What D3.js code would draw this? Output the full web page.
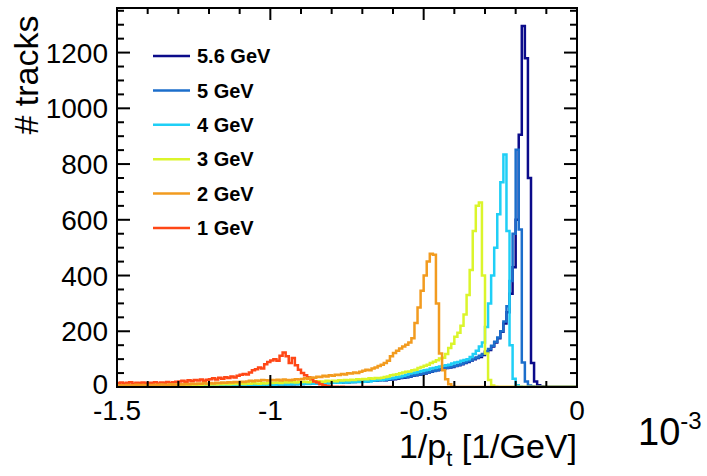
<!DOCTYPE html>
<head>
  <meta charset="UTF-8">
  <title>tracks</title>
  <style>
  body, html, svg{
    padding: 0;
    margin: 0;
  }
  body{
    background: #fff;
  }
  text{
    font-family: "Liberation Sans", Arial, Helvetica, sans-serif;
    fill: #000;
  }
  </style>
</head>
<body>
  <script src="https://cdn.jsdelivr.net/npm/d3@7"></script>
  <script type="text/javascript">
  // histogram binning: 0.01 wide bins starting at -1.5 (in 10^-3 1/GeV)
  var xMin = -1.5;
  var binW = 0.01;

  var xTicks = [-1.5, -1, -0.5, 0];
  var xTickLabels = ['-1.5', '-1', '-0.5', '0'];
  var yTicks = [0, 200, 400, 600, 800, 1000, 1200];

  var labels = ['5.6 GeV', '5 GeV', '4 GeV', '3 GeV', '2 GeV', '1 GeV'];
  var colors = ['#0b0b8a', '#1c6ecb', '#1fcff6', '#dbf52b', '#f29b1f', '#ff4716'];

  // counts per bin
  var gev1 = [
    14,16,13,15,17,12,15,14,16,13, 15,14,17,13,16,15,18,14,17,19,
    20,22,19,24,21,25,23,27,22,26, 28,31,27,33,30,35,32,38,34,40,
    44,47,45,52,60,64,70,66,82,90, 95,100,94,112,124,110,86,104,78,62,
    50,42,35,28,20,16,10,6,4,2, 1,1,0,1,0,0,0,0,0,0,
    0,0,0,0,0,0,0,0,0,0
  ];
  var gev2 = [
    5,6,4,7,5,6,8,5,7,6, 7,6,8,7,9,8,7,10,8,9,
    10,9,11,10,12,11,13,12,14,12, 14,13,15,14,16,15,17,16,18,17,
    19,18,20,22,21,23,22,25,24,23, 25,24,26,23,27,25,24,26,28,27,
    29,31,30,34,33,37,36,40,38,42, 40,44,43,47,45,49,48,52,50,55,
    58,62,60,66,70,75,80,86,94,110, 122,130,138,145,152,160,175,230,285,345,
    400,450,478,475,300,120,60,28,10,2, 0,0,0,0,0,0,0,0,0,0,
    0,0,0,0,0,0,0,0,0,0, 0,0,0,0,0,0,0,0,0,0,
    0,0,0,0,0,0,0,0,0,0
  ];
  var gev3 = [
    4,5,3,5,4,6,4,5,6,5, 5,6,5,7,6,5,7,6,7,8,
    7,8,7,9,8,7,9,8,10,9, 9,10,9,11,10,12,10,11,12,11,
    12,11,13,12,14,13,12,14,13,15, 14,15,16,14,17,16,18,17,16,18,
    18,19,17,20,19,21,20,19,22,21, 22,21,24,23,25,24,26,25,28,27,
    29,28,31,30,32,31,33,36,38,42, 44,46,49,52,55,56,60,62,68,72,
    76,80,86,91,96,102,105,118,140,155, 180,195,220,260,330,420,560,650,662,400,
    120,25,5,1,0,0,0,0,0,0, 0,0,0,0,0,0,0,0,0,0,
    0,0,0,0,0,0,0,0,0,0
  ];
  var gev4 = [
    3,4,2,4,3,5,3,4,3,4, 4,3,5,4,3,5,4,4,5,4,
    5,4,6,5,4,6,5,5,6,5, 6,5,7,6,6,7,6,7,6,7,
    7,6,8,7,8,7,8,8,9,8, 9,8,10,9,10,9,11,10,11,10,
    11,12,11,13,12,14,13,14,13,15, 15,16,15,17,16,18,17,18,19,18,
    19,21,20,23,24,26,25,28,30,31, 33,35,38,40,44,48,50,52,55,57,
    60,62,66,68,71,74,76,78,80,84, 88,90,94,97,100,108,118,130,145,160,
    215,300,400,500,620,735,834,560,150,30, 6,1,0,0,0,0,0,0,0,0,
    0,0,0,0,0,0,0,0,0,0
  ];
  var gev5 = [
    2,3,3,2,4,3,2,3,4,3, 3,4,3,3,4,3,5,4,3,4,
    4,5,4,4,5,4,5,6,5,5, 6,5,5,6,7,6,6,7,6,7,
    7,8,7,7,8,9,8,8,9,9, 10,9,10,11,10,11,10,12,11,12,
    12,13,12,14,13,14,15,14,16,15, 17,16,18,17,19,18,20,19,21,20,
    22,21,23,24,23,25,26,25,27,28, 30,31,33,35,36,38,41,43,45,47,
    50,53,56,57,61,64,65,69,71,74, 76,80,83,88,92,96,102,106,112,118,
    128,136,148,162,178,200,235,290,380,550, 851,565,88,20,5,2,0,0,0,0,
    0,0,0,0,0,0,0,0,0,0
  ];
  var gev56 = [
    2,3,2,3,2,4,3,2,3,3, 3,2,4,3,3,4,3,4,3,4,
    4,3,4,5,4,4,5,4,5,5, 5,4,6,5,5,6,5,6,6,7,
    6,7,6,7,7,8,7,8,8,9, 8,9,9,10,9,10,11,10,11,12,
    11,12,13,12,13,14,13,15,14,15, 16,15,17,16,18,17,19,18,20,19,
    21,20,22,23,22,24,25,24,26,27, 28,30,32,33,35,37,40,42,44,46,
    48,52,55,58,60,63,66,68,70,72, 75,78,82,86,90,95,100,104,108,115,
    125,133,145,160,175,198,228,268,335,430, 600,905,1295,1180,750,86,20,6,2,0,
    0,0,0,0,0,0,0,0,0,0
  ];

  var series = [gev56, gev5, gev4, gev3, gev2, gev1];
  // drawing order (index into series): orange last so its empty bins sit on top
  var drawOrder = [0, 1, 2, 3, 5, 4];

  var width = 707, height = 476;
  var frame = {left: 117, right: 577, top: 8, bottom: 387};

  var svg = d3.select('body')
    .append('svg')
    .attr('width', width)
    .attr('height', height);

  var x = d3.scaleLinear().domain([-1.5, 0]).range([frame.left, frame.right]);
  var y = d3.scaleLinear().domain([0, 1360]).range([frame.bottom, frame.top]);

  // histograms
  var line = d3.line()
    .x(function(d){ return x(d[0]); })
    .y(function(d){ return y(d[1]); })
    .curve(d3.curveStepAfter);

  function steps(vals){
    var pts = vals.map(function(v, i){ return [xMin + i * binW, v]; });
    pts.push([xMin + vals.length * binW, vals[vals.length - 1]]);
    return pts;
  }

  svg.append('defs').append('clipPath').attr('id', 'clip')
    .append('rect')
    .attr('x', frame.left).attr('y', frame.top)
    .attr('width', frame.right - frame.left)
    .attr('height', frame.bottom - frame.top);

  svg.append('g')
    .attr('clip-path', 'url(#clip)')
    .selectAll('path')
    .data(drawOrder)
    .enter()
    .append('path')
    .attr('d', function(i){ return line(steps(series[i])); })
    .attr('fill', 'none')
    .attr('stroke', function(i){ return colors[i]; })
    .attr('stroke-width', 2.5);

  // frame + inward ticks on all four sides
  var axes = svg.append('g').attr('stroke', '#000').attr('stroke-width', 2);
  axes.append('rect')
    .attr('x', frame.left).attr('y', frame.top)
    .attr('width', frame.right - frame.left)
    .attr('height', frame.bottom - frame.top)
    .attr('fill', 'none');

  var xMinor = d3.range(-15, 1).map(function(d){ return d / 10; });
  var yMinor = d3.range(0, 1360, 50);

  xMinor.forEach(function(v){
    var major = xTicks.indexOf(v) >= 0;
    var len = major ? 12 : 6;
    axes.append('line').attr('x1', x(v)).attr('x2', x(v))
      .attr('y1', frame.bottom).attr('y2', frame.bottom - len);
    axes.append('line').attr('x1', x(v)).attr('x2', x(v))
      .attr('y1', frame.top).attr('y2', frame.top + len);
  });
  yMinor.forEach(function(v){
    var major = v % 200 === 0;
    var len = major ? 13 : 7;
    axes.append('line').attr('y1', y(v)).attr('y2', y(v))
      .attr('x1', frame.left).attr('x2', frame.left + len);
    axes.append('line').attr('y1', y(v)).attr('y2', y(v))
      .attr('x1', frame.right).attr('x2', frame.right - len);
  });

  // tick labels
  svg.append('g').selectAll('text')
    .data(xTicks)
    .enter()
    .append('text')
    .attr('x', function(d){ return x(d); })
    .attr('y', 420)
    .attr('text-anchor', 'middle')
    .style('font-size', '28px')
    .text(function(d, i){ return xTickLabels[i]; });

  svg.append('g').selectAll('text')
    .data(yTicks)
    .enter()
    .append('text')
    .attr('x', 108)
    .attr('y', function(d){ return d === 0 ? y(d) - 3 : y(d); })
    .attr('dy', '0.36em')
    .attr('text-anchor', 'end')
    .style('font-size', '28px')
    .text(function(d){ return d; });

  // axis titles
  svg.append('text')
    .attr('transform', 'translate(38,75) rotate(-90)')
    .attr('text-anchor', 'middle')
    .style('font-size', '34px')
    .text('# tracks');

  var xt = svg.append('text')
    .attr('x', frame.right)
    .attr('y', 458)
    .attr('text-anchor', 'end')
    .style('font-size', '34px');
  xt.append('tspan').text('1/p');
  xt.append('tspan').attr('dy', 8).style('font-size', '22px').text('t');
  xt.append('tspan').attr('dy', -8).text(' [1/GeV]');

  var ex = svg.append('text')
    .attr('x', 638)
    .attr('y', 445)
    .style('font-size', '38px');
  ex.append('tspan').text('10');
  ex.append('tspan').attr('dy', -16).style('font-size', '24px').text('-3');

  // legend
  var leg = svg.append('g').selectAll('g')
    .data(labels)
    .enter()
    .append('g')
    .attr('transform', function(d, i){ return 'translate(0,' + (56 + i * 34.4) + ')'; });
  leg.append('line')
    .attr('x1', 153).attr('x2', 190)
    .attr('stroke', function(d, i){ return colors[i]; })
    .attr('stroke-width', 2.5);
  leg.append('text')
    .attr('x', 197)
    .attr('dy', '0.36em')
    .style('font-size', '20px')
    .style('font-weight', 'bold')
    .text(function(d){ return d; });
  </script>
</body>
</html>
